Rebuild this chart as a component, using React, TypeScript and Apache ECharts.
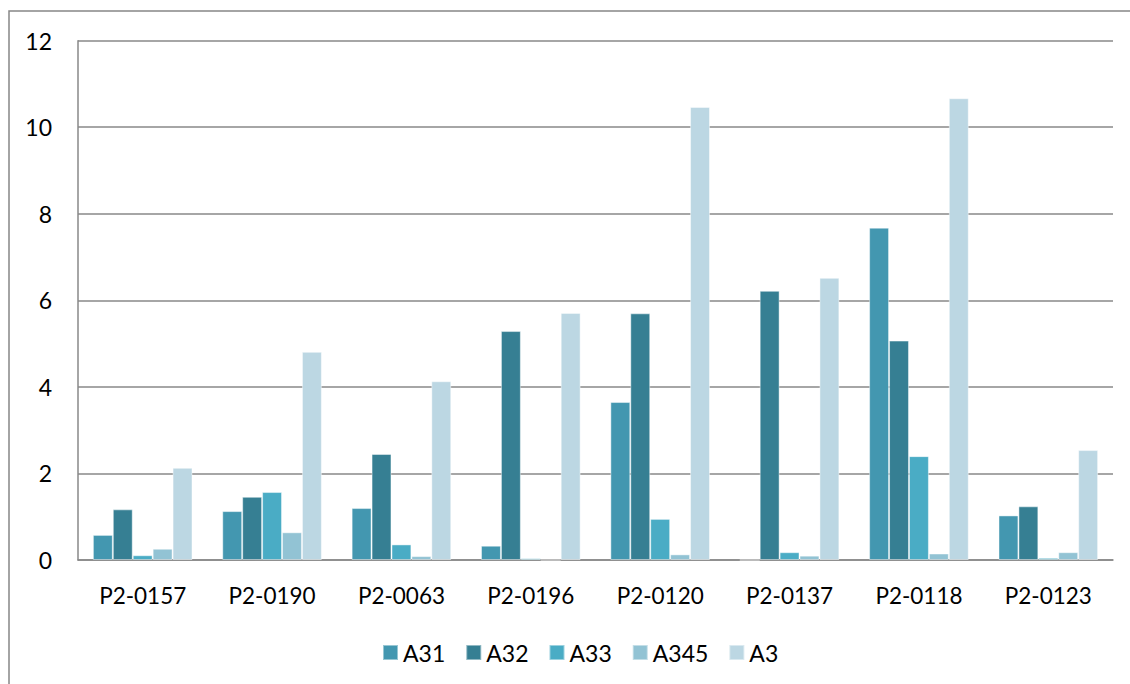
import React, { useEffect, useRef } from "react";
import * as echarts from "echarts";

const categories = ["P2-0157", "P2-0190", "P2-0063", "P2-0196", "P2-0120", "P2-0137", "P2-0118", "P2-0123"];
const seriesNames = ["A31", "A32", "A33", "A345", "A3"];
const a31 = [0.58, 1.13, 1.2, 0.33, 3.65, 0, 7.68, 1.03];
const a32 = [1.17, 1.46, 2.45, 5.29, 5.7, 6.22, 5.07, 1.24];
const a33 = [0.11, 1.57, 0.36, 0.04, 0.95, 0.18, 2.4, 0.05];
const a345 = [0.26, 0.64, 0.09, 0, 0.13, 0.1, 0.15, 0.18];
const a3 = [2.13, 4.81, 4.13, 5.71, 10.47, 6.52, 10.67, 2.54];
const seriesValues = [a31, a32, a33, a345, a3];
const colors = ["#4397b0", "#367f93", "#4aacc5", "#92c3d4", "#bcd7e3"];
const yTicks = [0, 2, 4, 6, 8, 10, 12];

const FONT = "Lato, 'Open Sans', sans-serif";

export default function App() {
  const ref = useRef<HTMLDivElement>(null);
  useEffect(() => {
    if (!ref.current) return;
    const chart = echarts.init(ref.current, null, { renderer: "svg" });
    chart.setOption({
      animation: false,
      backgroundColor: "#ffffff",
      textStyle: { fontFamily: FONT },
      graphic: [
        {
          type: "rect",
          shape: { x: 9, y: 11, width: 1300, height: 900 },
          style: { fill: "none", stroke: "#868686", lineWidth: 1.5 },
          silent: true,
          z: -1,
        },
      ],
      grid: { left: 78, top: 40.7, right: 17, bottom: 124, containLabel: false },
      legend: {
        data: seriesNames,
        left: 382,
        top: 641,
        padding: 0,
        itemWidth: 15,
        itemHeight: 15,
        itemGap: 20,
        icon: "rect",
        textStyle: { fontSize: 23, color: "#000", fontFamily: FONT },
      },
      xAxis: {
        type: "category",
        data: categories,
        axisTick: { show: false },
        axisLine: { show: true, lineStyle: { color: "#888888", width: 1.5 } },
        axisLabel: { fontSize: 22.5, color: "#000", margin: 24, fontFamily: FONT },
      },
      yAxis: {
        type: "value",
        min: yTicks[0],
        max: yTicks[yTicks.length - 1],
        interval: 2,
        axisLine: { show: true, lineStyle: { color: "#888888", width: 1.5 } },
        axisTick: { show: false },
        splitLine: { show: true, lineStyle: { color: "#888888", width: 1.5 } },
        axisLabel: { fontSize: 23, color: "#000", margin: 26, fontFamily: FONT },
      },
      series: seriesNames.map((name, i) => ({
        name,
        type: "bar",
        data: seriesValues[i],
        barGap: "0%",
        barCategoryGap: "23%",
        itemStyle: {
          color: colors[i],
          borderColor: "rgba(255,255,255,0.45)",
          borderWidth: 1,
        },
      })),
    });
    return () => chart.dispose();
  }, []);
  return (
    <div
      ref={ref}
      style={{ position: "fixed", left: 0, top: 0, width: 1130, height: 684, overflow: "hidden" }}
    />
  );
}
